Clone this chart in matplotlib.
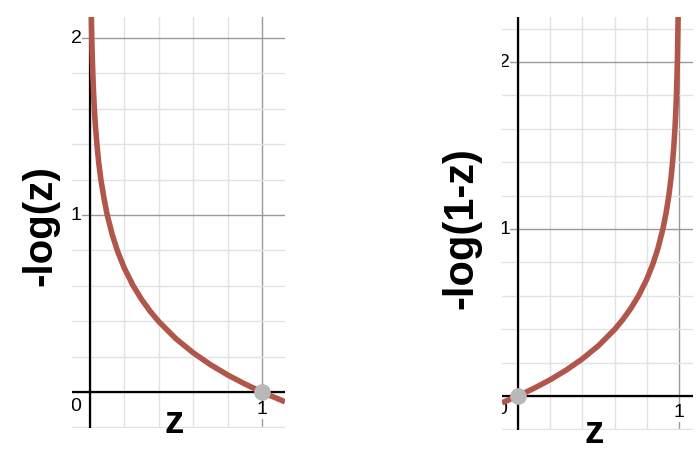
import numpy as np
import matplotlib.pyplot as plt

# -log(z), points
z_left = [0.0076, 0.01, 0.012, 0.016, 0.02, 0.025, 0.03, 0.04, 0.05, 0.063, 0.08,
          0.1, 0.13, 0.16, 0.2, 0.25, 0.3, 0.35, 0.4, 0.5, 0.6, 0.7, 0.8, 0.9,
          1.0, 1.134]
y_left = [2.12, 2.0, 1.92, 1.8, 1.7, 1.6, 1.52, 1.4, 1.3, 1.2, 1.1,
          1.0, 0.886, 0.796, 0.699, 0.602, 0.523, 0.456, 0.398, 0.301, 0.222,
          0.155, 0.097, 0.046, 0.0, -0.055]

# -log(1-z), points
z_right = [-0.099, 0.0, 0.1, 0.2, 0.3, 0.4, 0.5, 0.6, 0.65, 0.7, 0.75, 0.8,
           0.84, 0.87, 0.9, 0.92, 0.937, 0.95, 0.96, 0.968, 0.975, 0.98,
           0.984, 0.99, 0.9946]
y_right = [-0.041, 0.0, 0.046, 0.097, 0.155, 0.222, 0.301, 0.398, 0.456,
           0.523, 0.602, 0.699, 0.796, 0.886, 1.0, 1.097, 1.2, 1.301, 1.398,
           1.495, 1.602, 1.699, 1.796, 2.0, 2.27]

# highlighted points
dot_left = (1.0, 0.0)
dot_right = (0.0, 0.0)

W, H = 696, 450
CURVE = "#b0564a"
FONT = "Liberation Sans"


def px_rect(x0, y0, x1, y1):
    """pixel box (top-left origin) -> figure fraction rect"""
    return [x0 / W, 1 - y1 / H, (x1 - x0) / W, (y1 - y0) / H]


def setup(ax, xlim, ylim):
    ax.set_xticks([0, 1])
    ax.set_yticks([0, 1, 2])
    ax.set_xticks(np.arange(-0.2, 1.21, 0.2), minor=True)
    ax.set_yticks(np.arange(-0.2, 2.41, 0.2), minor=True)
    # limits after ticks, otherwise set_xticks widens the view
    ax.set_xlim(*xlim)
    ax.set_ylim(*ylim)
    ax.tick_params(which="both", length=0, labelleft=False, labelbottom=False)
    ax.grid(which="minor", color="#e2e2e2", lw=1.0)
    ax.grid(which="major", color="#9a9a9a", lw=1.0)
    ax.set_axisbelow(True)
    for s in ax.spines.values():
        s.set_visible(False)
    ax.axhline(0, color="black", lw=1.6, zorder=2)
    ax.axvline(0, color="black", lw=1.6, zorder=2)


def tick_label(ax, x, y, s, ha, va):
    ax.text(x, y, s, ha=ha, va=va, fontsize=14, family=FONT, color="black",
            zorder=3, clip_on=True,
            bbox=dict(facecolor="white", edgecolor="none", pad=0.3))


fig = plt.figure(figsize=(W / 100, H / 100), dpi=100)

# ---- left panel: -log(z) ----
ax1 = fig.add_axes(px_rect(72, 17, 285, 428))
setup(ax1, (-0.105, 1.134), (-0.203, 2.119))
ax1.plot(z_left, y_left, color=CURVE, lw=4, solid_capstyle="butt", zorder=4)
ax1.plot(*dot_left, "o", color="#b8b8b8", ms=11, zorder=5)
tick_label(ax1, -0.05, 2, "2", "right", "center")
tick_label(ax1, -0.05, 1, "1", "right", "center")
tick_label(ax1, -0.05, -0.08, "0", "right", "center")
tick_label(ax1, 1.0, -0.1, "1", "center", "center")

# ---- right panel: -log(1-z) ----
ax2 = fig.add_axes(px_rect(502, 17, 693, 430))
setup(ax2, (-0.099, 1.087), (-0.204, 2.27))
ax2.plot(z_right, y_right, color=CURVE, lw=4, solid_capstyle="butt", zorder=4)
ax2.plot(*dot_right, "o", color="#b8b8b8", ms=11, zorder=5)
tick_label(ax2, -0.05, 2, "2", "right", "center")
tick_label(ax2, -0.05, 1, "1", "right", "center")
tick_label(ax2, -0.065, -0.08, "0", "right", "center")
tick_label(ax2, 1.0, -0.1, "1", "center", "center")

# axis titles
fig.text(40 / W, 1 - 226 / H, "-log(z)", rotation=90, ha="center", va="center",
         fontsize=29, fontweight="bold", family=FONT)
fig.text(461 / W, 1 - 228 / H, "-log(1-z)", rotation=90, ha="center",
         va="center", fontsize=30, fontweight="bold", family=FONT)
fig.text(174 / W, 1 - 433 / H, "z", ha="center", va="baseline",
         fontsize=28, fontweight="bold", family=FONT)
fig.text(594 / W, 1 - 443 / H, "z", ha="center", va="baseline",
         fontsize=28, fontweight="bold", family=FONT)

fig.savefig("out.png", dpi=100)
